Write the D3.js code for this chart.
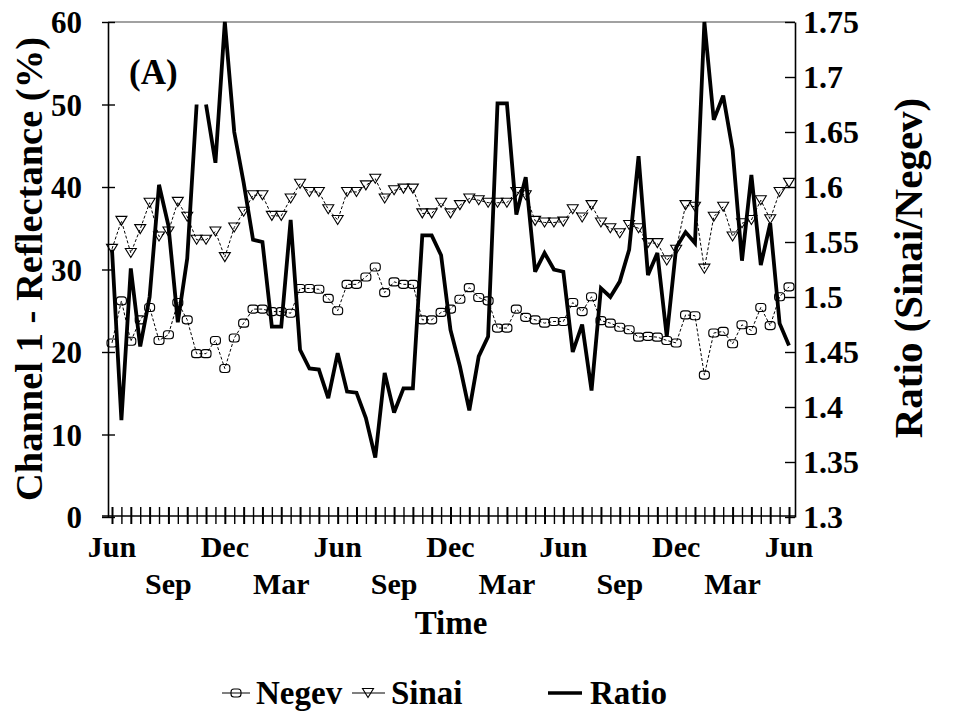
<!DOCTYPE html>
<html>
<head>
<meta charset="utf-8">
<script src="https://cdn.jsdelivr.net/npm/d3@7"></script>
<style>
  html, body { margin: 0; padding: 0; background: #fff; }
  svg { display: block; }
  text { font-family: "Liberation Serif", "Times New Roman", serif; font-weight: bold; fill: #000; }
</style>
</head>
<body>
<svg id="chart" width="959" height="720"></svg>
<script>
// Semi-monthly composites, June to June over three years (73 samples)
const negev = [21.1, 26.2, 21.3, 23.9, 25.4, 21.4, 22.1, 26.0, 23.9, 19.8,
               19.8, 21.4, 18.0, 21.7, 23.5, 25.2, 25.2, 24.9, 24.9, 24.7,
               27.7, 27.7, 27.6, 26.5, 25.0, 28.2, 28.2, 29.1, 30.3, 27.2,
               28.5, 28.2, 28.2, 23.9, 23.9, 24.8, 25.2, 26.4, 27.8, 26.6,
               26.2, 22.9, 22.9, 25.2, 24.2, 23.9, 23.5, 23.7, 23.7, 26.0,
               24.9, 26.7, 23.8, 23.5, 23.0, 22.7, 21.8, 21.9, 21.8, 21.4,
               21.1, 24.5, 24.4, 17.2, 22.3, 22.5, 21.0, 23.3, 22.6, 25.4,
               23.2, 26.7, 27.9];
const sinai = [32.5, 35.9, 32.0, 34.9, 38.1, 34.0, 34.6, 38.2, 36.4, 33.6,
               33.6, 34.6, 31.5, 35.1, 37.0, 39.0, 39.0, 36.5, 36.5, 38.6,
               40.4, 39.4, 39.4, 37.3, 36.0, 39.4, 39.4, 40.2, 41.0, 38.6,
               39.6, 39.8, 39.8, 36.8, 36.8, 38.1, 36.8, 37.8, 38.6, 38.4,
               38.1, 38.1, 38.1, 39.4, 39.0, 35.9, 35.7, 35.7, 35.8, 37.3,
               36.3, 37.8, 35.7, 35.0, 34.4, 35.4, 35.0, 33.2, 33.2, 31.1,
               32.4, 37.8, 37.6, 30.1, 36.4, 37.6, 34.0, 35.6, 36.0, 38.4,
               36.1, 39.4, 40.5];
const ratio = [1.543, 1.388, 1.526, 1.455, 1.500, 1.602, 1.565, 1.477, 1.535, 1.675,
               1.675, 1.622, 1.750, 1.650, 1.604, 1.552, 1.550, 1.473, 1.473, 1.570,
               1.452, 1.435, 1.434, 1.408, 1.449, 1.414, 1.413, 1.390, 1.354, 1.431,
               1.395, 1.417, 1.417, 1.556, 1.556, 1.538, 1.470, 1.437, 1.397, 1.446,
               1.464, 1.676, 1.676, 1.575, 1.609, 1.523, 1.540, 1.525, 1.523, 1.450,
               1.475, 1.415, 1.508, 1.500, 1.514, 1.543, 1.628, 1.520, 1.540, 1.464,
               1.545, 1.559, 1.549, 1.750, 1.661, 1.683, 1.634, 1.533, 1.611, 1.529,
               1.567, 1.476, 1.456];
// The ratio trace restarts at these sample indices (break in the record)
const ratioBreaks = [10];

// Month labels on the time axis (sample index, text)
const monthIdx    = [0, 6, 12, 18, 24, 30, 36, 42, 48, 54, 60, 66, 72];
const monthLabels = ["Jun", "Sep", "Dec", "Mar", "Jun", "Sep", "Dec", "Mar", "Jun", "Sep", "Dec", "Mar", "Jun"];

const leftTicks  = [0, 10, 20, 30, 40, 50, 60];
const rightTicks = [1.3, 1.35, 1.4, 1.45, 1.5, 1.55, 1.6, 1.65, 1.7, 1.75];
const rightTickLabels = ["1.3", "1.35", "1.4", "1.45", "1.5", "1.55", "1.6", "1.65", "1.7", "1.75"];

const seriesNames = ["Negev", "Sinai", "Ratio"];

// Frame geometry
const frameL = 108, frameR = 795, frameT = 22, frameB = 517;

const svg = d3.select("#chart");

const x  = d3.scaleLinear().domain([0, negev.length - 1]).range([112, 789]);
const yL = d3.scaleLinear().domain([0, 60]).range([frameB, frameT]);
const yR = d3.scaleLinear().domain([1.3, 1.75]).range([frameB, frameT]);

// Top border and bottom baseline
svg.append("line").attr("x1", frameL).attr("x2", frameR).attr("y1", frameT).attr("y2", frameT)
  .attr("stroke", "#444").attr("stroke-width", 1.2);
svg.append("line").attr("x1", frameL - 6).attr("x2", frameR).attr("y1", frameB - 1).attr("y2", frameB - 1)
  .attr("stroke", "#000").attr("stroke-width", 1.6);

// Left axis: ticks straddle the axis line
const gL = svg.append("g").attr("transform", `translate(${frameL},0)`)
  .call(d3.axisLeft(yL).tickValues(leftTicks).tickSize(6).tickSizeOuter(0).tickPadding(20));
gL.select(".domain").attr("stroke", "#000").attr("stroke-width", 1.6);
gL.selectAll(".tick line").attr("x1", 7).attr("stroke", "#000").attr("stroke-width", 1.4);
gL.selectAll(".tick text").style("font-size", "31px").attr("dy", "0.34em");

// Right axis: inward ticks, labels outside
const gR = svg.append("g").attr("transform", `translate(${frameR},0)`)
  .call(d3.axisRight(yR).tickValues(rightTicks).tickSizeInner(-10).tickSizeOuter(0).tickPadding(8)
    .tickFormat((d, i) => rightTickLabels[i]));
gR.select(".domain").attr("stroke", "#000").attr("stroke-width", 1.6);
gR.selectAll(".tick line").attr("stroke", "#000").attr("stroke-width", 1.4);
gR.selectAll(".tick text").style("font-size", "32px").attr("dy", "0.34em");

// Bottom axis: one tick per sample, crossing the baseline
const gB = svg.append("g").attr("transform", `translate(0,${frameB - 1})`)
  .call(d3.axisBottom(x).tickValues(d3.range(negev.length)).tickSize(8).tickFormat(""));
gB.select(".domain").remove();
gB.selectAll(".tick line").attr("y1", -9).attr("stroke", "#000")
  .attr("stroke-width", (d) => (d % 2 === 0 ? 2 : 1.4));

// Month labels in two staggered rows
svg.append("g").selectAll("text").data(monthIdx).join("text")
  .attr("x", (d) => x(d))
  .attr("y", (d, i) => (i % 2 === 0 ? 557 : 594))
  .attr("text-anchor", "middle")
  .style("font-size", "30px")
  .text((d, i) => monthLabels[i]);

// Axis titles
svg.append("text").attr("x", 451).attr("y", 634).attr("text-anchor", "middle")
  .style("font-size", "33px").text("Time");
svg.append("text").attr("transform", "translate(42,269) rotate(-90)").attr("text-anchor", "middle")
  .style("font-size", "38.5px").text("Channel 1 - Reflectance (%)");
svg.append("text").attr("transform", "translate(922,268) rotate(-90)").attr("text-anchor", "middle")
  .style("font-size", "41px").text("Ratio (Sinai/Negev)");

// Panel tag
svg.append("text").attr("x", 129).attr("y", 84).style("font-size", "35px").text("(A)");

// Marker shapes
const boxW = 10, boxH = 8;
const triPath = "M-5.5,-4.5L5.5,-4.5L0,4.5Z";

// Negev series
const lineN = d3.line().x((d, i) => x(i)).y((d) => yL(d));
svg.append("path").datum(negev).attr("d", lineN)
  .attr("fill", "none").attr("stroke", "#000").attr("stroke-width", 1).attr("stroke-dasharray", "3,2");
svg.append("g").selectAll("rect").data(negev).join("rect")
  .attr("x", (d, i) => x(i) - boxW / 2).attr("y", (d) => yL(d) - boxH / 2)
  .attr("width", boxW).attr("height", boxH).attr("rx", 3).attr("ry", 3)
  .attr("fill", "none").attr("stroke", "#000").attr("stroke-width", 1.1);

// Sinai series
const lineS = d3.line().x((d, i) => x(i)).y((d) => yL(d));
svg.append("path").datum(sinai).attr("d", lineS)
  .attr("fill", "none").attr("stroke", "#000").attr("stroke-width", 1).attr("stroke-dasharray", "3,2");
svg.append("g").selectAll("path").data(sinai).join("path")
  .attr("transform", (d, i) => `translate(${x(i)},${yL(d)})`)
  .attr("d", triPath)
  .attr("fill", "none").attr("stroke", "#000").attr("stroke-width", 1.1);

// Ratio series on the right axis, split at record breaks
const starts = [0, ...ratioBreaks];
const ends = [...ratioBreaks, ratio.length];
const segs = starts.map((s, k) => ratio.map((v, i) => ({ i, v })).slice(s, ends[k]));
const lineR = d3.line().x((d) => x(d.i)).y((d) => yR(d.v));
svg.append("g").selectAll("path").data(segs).join("path")
  .attr("d", lineR)
  .attr("fill", "none").attr("stroke", "#000").attr("stroke-width", 3.8)
  .attr("stroke-linejoin", "miter").attr("stroke-miterlimit", 3);

// Legend
const ly = 693;
const lg = svg.append("g");
// Negev entry
lg.append("line").attr("x1", 222).attr("x2", 250).attr("y1", ly).attr("y2", ly)
  .attr("stroke", "#000").attr("stroke-width", 1);
lg.append("rect").attr("x", 236 - boxW / 2).attr("y", ly - boxH / 2).attr("width", boxW).attr("height", boxH)
  .attr("rx", 3).attr("ry", 3).attr("fill", "none").attr("stroke", "#000").attr("stroke-width", 1.1);
lg.append("text").attr("x", 256).attr("y", ly + 11).style("font-size", "33px").text(seriesNames[0]);
// Sinai entry
lg.append("line").attr("x1", 352).attr("x2", 385).attr("y1", ly).attr("y2", ly)
  .attr("stroke", "#000").attr("stroke-width", 1);
lg.append("path").attr("transform", `translate(368,${ly})`).attr("d", triPath)
  .attr("fill", "none").attr("stroke", "#000").attr("stroke-width", 1.1);
lg.append("text").attr("x", 391).attr("y", ly + 11).style("font-size", "33px").text(seriesNames[1]);
// Ratio entry
lg.append("line").attr("x1", 548).attr("x2", 582).attr("y1", ly).attr("y2", ly)
  .attr("stroke", "#000").attr("stroke-width", 3.6);
lg.append("text").attr("x", 590).attr("y", ly + 11).style("font-size", "33px").text(seriesNames[2]);
</script>
</body>
</html>
